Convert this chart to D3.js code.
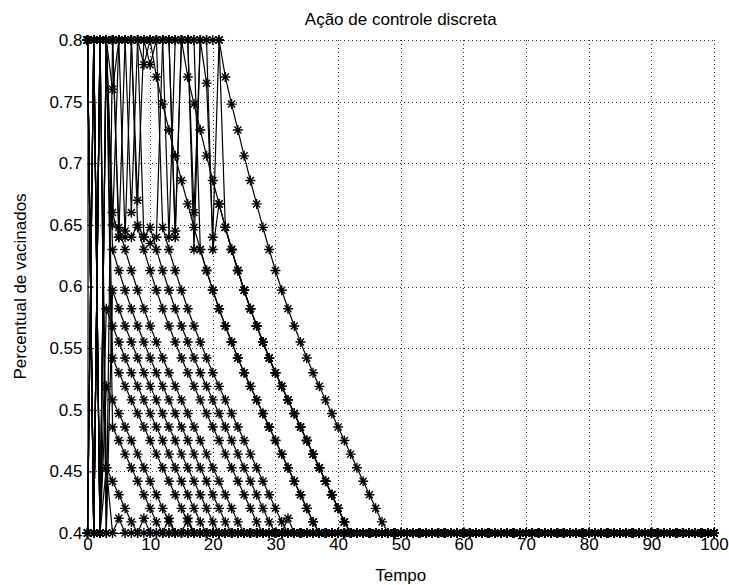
<!DOCTYPE html>
<html>
<head>
<meta charset="utf-8">
<script src="https://cdn.jsdelivr.net/npm/d3@7"></script>
<style>
  body { margin: 0; background: #fff; }
  text { font-family: "Liberation Sans", Arial, sans-serif; fill: #000; }
</style>
</head>
<body>
<svg id="chart" width="729" height="585"></svg>
<script>
// Eixos
const xTicks = [0, 10, 20, 30, 40, 50, 60, 70, 80, 90, 100];
const yTicks = [0.4, 0.45, 0.5, 0.55, 0.6, 0.65, 0.7, 0.75, 0.8];
const tFinal = 100;
const piso = 0.4;   // limite inferior da ação de controle
const teto = 0.8;   // limite superior da ação de controle

// Trajetórias da ação de controle, u(t) para t = 0, 1, 2, ...
// (após o último valor listado a ação permanece no piso até tFinal)
const u01 = [0.8,0.8,0.8,0.8,0.8,0.8,0.8,0.8,0.8,0.8,0.8,0.8,0.8,0.8,0.8,0.8,0.8,0.8,0.8,0.8,0.8,0.8,
             0.770,0.748,0.727,0.706,0.686,0.667,0.648,0.630,0.613,0.597,0.582,0.568,0.555,0.542,0.530,
             0.519,0.508,0.497,0.486,0.475,0.464,0.453,0.442,0.431,0.420,0.409,0.400];
const u02 = [0.8,0.4,0.8,0.8,0.8,0.8,0.64,0.8,0.8,0.8,0.8,0.8,0.8,0.64,0.8,
             0.8,0.770,0.748,0.727,0.706,0.686,0.667,0.648,0.630,0.613,0.597,0.582,0.568,0.555,0.542,
             0.530,0.519,0.508,0.497,0.486,0.475,0.464,0.453,0.442,0.431,0.420,0.409,0.400];
const u03 = [0.8,0.8,0.4,0.8,0.8,0.8,0.8,0.66,0.8,0.8,
             0.8,0.770,0.748,0.727,0.706,0.686,0.667,0.648,0.630,0.613,0.597,0.582,0.568,0.555,0.542,
             0.530,0.519,0.508,0.497,0.486,0.475,0.464,0.453,0.442,0.431,0.420,0.409,0.400];
const u04 = [0.8,0.4,0.8,0.8,0.65,0.8,0.8,0.8,0.8,0.78,0.8,0.8,
             0.648,0.630,0.613,0.597,0.582,0.568,0.555,0.542,
             0.530,0.519,0.508,0.497,0.486,0.475,0.464,0.453,0.442,0.431,0.420,0.409,0.400];
const u05 = [0.8,0.8,0.4,0.8,0.8,0.64,0.8,0.8,0.8,0.64,
             0.648,0.630,0.613,0.597,0.582,0.568,0.555,0.542,
             0.530,0.519,0.508,0.497,0.486,0.475,0.464,0.453,0.442,0.431,0.420,0.409,0.400,0.400,0.412,0.400];
const u06 = [0.4,0.8,0.8,0.8,0.76,0.8,0.8,0.8,
             0.648,0.630,0.613,0.597,0.582,0.568,0.555,0.542,
             0.530,0.519,0.508,0.497,0.486,0.475,0.464,0.453,0.442,0.431,0.420,0.409,0.400];
const u07 = [0.8,0.4,0.8,0.8,0.8,
             0.648,0.630,0.613,0.597,0.582,0.568,0.555,0.542,
             0.530,0.519,0.508,0.497,0.486,0.475,0.464,0.453,0.442,0.431,0.420,0.409,0.400];
const u08 = [0.4,0.8,0.4,0.8,
             0.630,0.613,0.597,0.582,0.568,0.555,0.542,
             0.530,0.519,0.508,0.497,0.486,0.475,0.464,0.453,0.442,0.431,0.420,0.409,0.400];
const u09 = [0.8,0.4,0.8,0.4,
             0.597,0.582,0.568,0.555,0.542,
             0.530,0.519,0.508,0.497,0.486,0.475,0.464,0.453,0.442,0.431,0.420,0.409,0.400];
const u10 = [0.4,0.8,0.4,
             0.582,0.568,0.555,0.542,
             0.530,0.519,0.508,0.497,0.486,0.475,0.464,0.453,0.442,0.431,0.420,0.409,0.400];
const u11 = [0.8,0.4,0.8,0.8,
             0.542,0.530,0.519,0.508,0.497,0.486,0.475,0.464,0.453,0.442,0.431,0.420,0.409,0.400];
const u12 = [0.8,0.8,0.4,
             0.519,0.508,0.497,0.486,0.475,0.464,0.453,0.442,0.431,0.420,0.409,0.400,0.400,0.412,0.400];
const u13 = [0.4,0.8,0.4,0.8,
             0.486,0.475,0.464,0.453,0.442,0.431,0.420,0.409,0.400,0.412,0.400];
const u14 = [0.8,0.4,0.8,
             0.453,0.442,0.431,0.420,0.409,0.400,0.412,0.400];
const u15 = [0.8,0.4,0.4,0.453,0.400,0.412,0.400];
const u16 = [0.8,0.4,0.8,0.8,0.66,0.64,0.645,0.64,0.65,0.64,0.635,0.64,0.8,0.8,0.645,0.8,0.8,0.63,0.8,0.765,0.64,0.8,
             0.648,0.630,0.613,0.597,0.582,0.568,0.555,0.542,
             0.530,0.519,0.508,0.497,0.486,0.475,0.464,0.453,0.442,0.431,0.420,0.409,0.400];
const u17 = [0.8,0.8,0.8,0.4,0.8,0.8,0.8,0.8,0.8,0.8,0.78,0.8,0.8,0.8,0.8,0.8,0.8,0.66,0.8,0.8,0.63,
             0.667,0.648,0.630,0.613,0.597,0.582,0.568,0.555,0.542,
             0.530,0.519,0.508,0.497,0.486,0.475,0.464,0.453,0.442,0.431,0.420,0.409,0.400];
const u18 = [0.4,0.8,0.8,0.8,0.8,0.8,0.8,0.8,0.67,0.8,0.8,0.8,0.8,0.8,0.64,0.8,0.8,0.8,
             0.630,0.613,0.597,0.582,0.568,0.555,0.542,
             0.530,0.519,0.508,0.497,0.486,0.475,0.464,0.453,0.442,0.431,0.420,0.409,0.400];

const trajetorias = [u01, u02, u03, u04, u05, u06, u07, u08, u09, u10, u11, u12, u13, u14, u15, u16, u17, u18];

// Área do gráfico
const plot = { left: 87.5, right: 714, top: 40, bottom: 533 };

const svg = d3.select("#chart");
const x = d3.scaleLinear().domain([0, tFinal]).range([plot.left, plot.right]);
const y = d3.scaleLinear().domain([piso, teto]).range([plot.bottom, plot.top]);

// Grade pontilhada
const grid = svg.append("g").attr("stroke", "#333").attr("stroke-width", 1)
  .attr("stroke-dasharray", "1,3").attr("shape-rendering", "crispEdges");
grid.selectAll("line.gx").data(xTicks.slice(1)).join("line")
  .attr("x1", d => Math.round(x(d)) + 0.5).attr("x2", d => Math.round(x(d)) + 0.5)
  .attr("y1", plot.top).attr("y2", plot.bottom);
grid.selectAll("line.gy").data(yTicks.slice(1)).join("line")
  .attr("y1", d => Math.round(y(d)) + 0.5).attr("y2", d => Math.round(y(d)) + 0.5)
  .attr("x1", plot.left).attr("x2", plot.right);

// Série completa até o horizonte final
const pontos = trajetorias.map(u => d3.range(0, tFinal + 1).map(t => [t, t < u.length ? u[t] : piso]));

const linha = d3.line().x(d => x(d[0])).y(d => y(d[1]));
const asterisco = "M-5,0H5M0,-5V5M-3.5,-3.5L3.5,3.5M-3.5,3.5L3.5,-3.5";

const dados = svg.append("g");
pontos.forEach(p => {
  const g = dados.append("g");
  g.append("path").datum(p).attr("d", linha)
    .attr("fill", "none").attr("stroke", "#000").attr("stroke-width", 1.2);
  g.selectAll("path.m").data(p).join("path").attr("class", "m")
    .attr("d", asterisco)
    .attr("transform", d => `translate(${x(d[0])},${y(d[1])})`)
    .attr("fill", "none").attr("stroke", "#000").attr("stroke-width", 1.4);
});

// Eixos com marcas internas
const fonte = "Liberation Sans, Arial, sans-serif";
const eixoX = d3.axisBottom(x).tickValues(xTicks).tickSize(-6).tickPadding(5).tickFormat(d3.format("d"));
const eixoY = d3.axisLeft(y).tickValues(yTicks).tickSize(-6).tickPadding(5).tickFormat(d => String(+d.toFixed(2)));

svg.append("g").attr("transform", `translate(0,${plot.bottom})`).call(eixoX)
  .call(g => g.selectAll("text").attr("font-size", 17).attr("font-family", fonte))
  .call(g => g.selectAll("line,path").attr("stroke-width", 1.2));
svg.append("g").attr("transform", `translate(${plot.left},0)`).call(eixoY)
  .call(g => g.selectAll("text").attr("font-size", 17).attr("font-family", fonte))
  .call(g => g.selectAll("line,path").attr("stroke-width", 1.2));

// Títulos
svg.append("text").attr("x", (plot.left + plot.right) / 2).attr("y", 25)
  .attr("text-anchor", "middle").attr("font-size", 17).text("Ação de controle discreta");
svg.append("text").attr("x", (plot.left + plot.right) / 2).attr("y", 581)
  .attr("text-anchor", "middle").attr("font-size", 17).text("Tempo");
svg.append("text").attr("transform", `translate(26,${(plot.top + plot.bottom) / 2}) rotate(-90)`)
  .attr("text-anchor", "middle").attr("font-size", 17).text("Percentual de vacinados");
</script>
</body>
</html>
